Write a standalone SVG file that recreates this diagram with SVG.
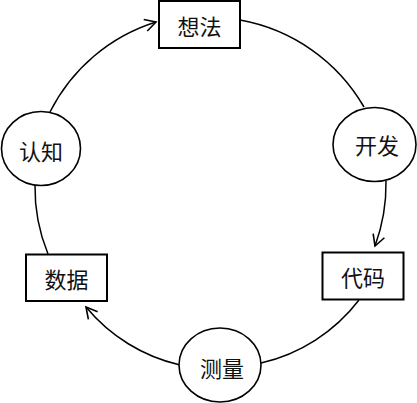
<svg xmlns="http://www.w3.org/2000/svg" width="417" height="403" viewBox="0 0 417 403">
<style>
.n{fill:#fff;stroke:#000;stroke-width:2}
.e{fill:#fff;stroke:#000;stroke-width:1.6}
.t{font-family:"Noto Sans CJK SC","Noto Sans CJK JP",sans-serif;font-size:22px;fill:#111;text-anchor:middle;dominant-baseline:central}
.c{fill:none;stroke:#000;stroke-width:1.5}
</style>
<defs>
<marker id="a" viewBox="-13 -7 15 14" markerWidth="15" markerHeight="14" refX="0" refY="0" orient="auto" markerUnits="userSpaceOnUse">
<path d="M-11,-6 L0,0 L-11,6" fill="none" stroke="#000" stroke-width="1.6"/>
</marker>
</defs>
<rect width="417" height="403" fill="#fff"/>
<g id="connectors">
<path class="c" d="M50,112 A178,178 0 0,1 156,22" marker-end="url(#a)"/>
<path class="c" d="M240,20 A180,180 0 0,1 364,107"/>
<path class="c" d="M386,181 A180,180 0 0,1 375,246" marker-end="url(#a)"/>
<path class="c" d="M359,300 A172,172 0 0,1 261,363"/>
<path class="c" d="M180,365 A172,172 0 0,1 86,307" marker-end="url(#a)"/>
<path class="c" d="M48,254 A175,175 0 0,1 35,185"/>
</g>
<g id="idea"><rect class="n" x="159" y="1" width="81" height="47"/><text class="t" x="199.5" y="24.5">想法</text></g>
<g id="develop"><ellipse class="e" cx="374.5" cy="144.5" rx="41.5" ry="37"/><text class="t" x="377" y="144">开发</text></g>
<g id="code"><rect class="n" x="322.5" y="252.5" width="81" height="47"/><text class="t" x="363" y="276">代码</text></g>
<g id="measure"><ellipse class="e" cx="220" cy="365" rx="41" ry="37"/><text class="t" x="222" y="367">测量</text></g>
<g id="data"><rect class="n" x="26" y="254.5" width="81" height="46.5"/><text class="t" x="66.5" y="277.5">数据</text></g>
<g id="cognition"><ellipse class="e" cx="41" cy="148.5" rx="39.5" ry="37"/><text class="t" x="41" y="150">认知</text></g>
</svg>
